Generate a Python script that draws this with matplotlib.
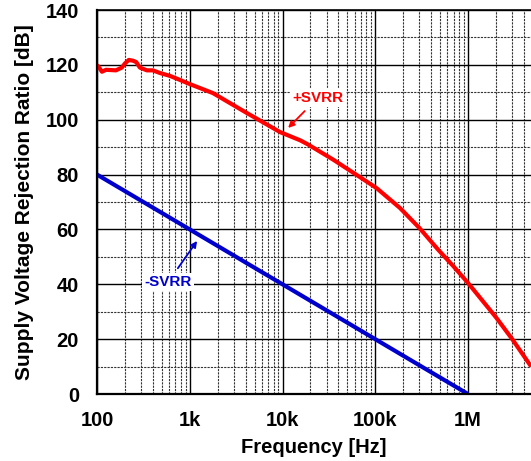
import matplotlib
matplotlib.use("Agg")
import matplotlib.pyplot as plt
from matplotlib.ticker import FixedLocator, LogLocator, NullFormatter, MultipleLocator

plt.rcParams['font.family'] = ['Liberation Sans', 'DejaVu Sans']
plt.rcParams['font.weight'] = 'bold'

# +SVRR measurement (frequency in Hz, rejection in dB)
pos_freq = [100, 108, 113, 125, 160, 185, 200, 220, 245, 265, 290, 345, 400, 480,
            610, 785, 1000, 1780, 4150, 9400, 15500, 18800, 35000, 69000, 104000,
            185000, 300000, 480000, 700000, 1000000, 2000000, 3000000, 4800000]
pos_svrr = [120, 118.5, 117.5, 118.2, 118, 119, 120.5, 121.8, 121.5, 121, 119, 118,
            118, 117, 116, 114.5, 113, 109.7, 102.4, 95.5, 92.5, 91, 85.5, 79, 75,
            67.8, 60.5, 52.5, 46.5, 40.5, 28, 20, 10]

# -SVRR measurement
neg_freq = [100, 1000, 10000, 100000, 1000000]
neg_svrr = [80, 60, 40, 20, 0]

x_ticks = [100, 1e3, 1e4, 1e5, 1e6]
x_labels = ['100', '1k', '10k', '100k', '1M']
y_ticks = [0, 20, 40, 60, 80, 100, 120, 140]

fig = plt.figure(figsize=(5.31, 4.61), dpi=100)
ax = fig.add_axes([0.1827, 0.1453, 0.8173, 0.8330])

ax.set_xscale('log')
ax.set_xlim(100, 4.78e6)
ax.set_ylim(0, 140)

ax.xaxis.set_major_locator(FixedLocator(x_ticks))
ax.set_xticklabels(x_labels)
ax.xaxis.set_minor_locator(LogLocator(base=10, subs=range(2, 10), numticks=20))
ax.xaxis.set_minor_formatter(NullFormatter())
ax.set_yticks(y_ticks)
ax.yaxis.set_minor_locator(MultipleLocator(10))

ax.grid(which='major', color='black', linewidth=1.0, linestyle='-')
ax.grid(which='minor', color='#333333', linewidth=0.8, linestyle=(0, (2, 1)))
ax.set_axisbelow(True)

ax.tick_params(which='both', length=0)
ax.tick_params(axis='x', pad=12, labelsize=14.5)
ax.tick_params(axis='y', pad=13, labelsize=14.5)
for lab in ax.get_xticklabels() + ax.get_yticklabels():
    lab.set_fontweight('bold')

for side in ('left', 'bottom'):
    ax.spines[side].set_linewidth(1.6)
ax.spines['top'].set_linewidth(1.2)
ax.spines['right'].set_visible(False)

ax.plot(pos_freq, pos_svrr, color='#ff0000', linewidth=3.0, solid_capstyle='butt')
ax.plot(neg_freq, neg_svrr, color='#0000cc', linewidth=3.0, solid_capstyle='butt')

ax.set_xlabel('Frequency [Hz]', fontsize=14.5, fontweight='bold', labelpad=6)
ax.set_ylabel('Supply Voltage Rejection Ratio [dB]', fontsize=15, fontweight='bold', labelpad=8)

ax.annotate('+SVRR', xy=(11500, 97), xytext=(24000, 108),
            color='#ff0000', fontsize=11, fontweight='bold', ha='center', va='center',
            bbox=dict(boxstyle='square,pad=0.15', fc='white', ec='none'),
            arrowprops=dict(arrowstyle='-|>', color='#ff0000', lw=1.3,
                            mutation_scale=9, shrinkA=4, shrinkB=0))
ax.annotate('-SVRR', xy=(1200, 55.8), xytext=(584, 40.8),
            color='#0000cc', fontsize=11, fontweight='bold', ha='center', va='center',
            bbox=dict(boxstyle='square,pad=0.15', fc='white', ec='none'),
            arrowprops=dict(arrowstyle='-|>', color='#0000cc', lw=1.3,
                            mutation_scale=9, shrinkA=4, shrinkB=0))

fig.savefig('out.png', dpi=100)
